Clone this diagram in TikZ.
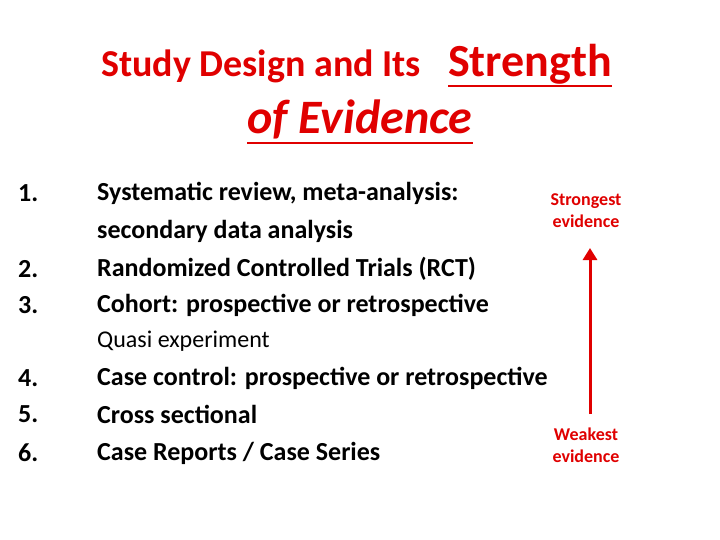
\documentclass[tikz,border=0pt]{standalone}
\usepackage{fontspec}
\setmainfont{Carlito}
\usetikzlibrary{arrows.meta}
\definecolor{tred}{HTML}{E00000}
\begin{document}
\begin{tikzpicture}[x=1pt,y=-1pt,
  item/.style={anchor=west,font=\bfseries\fontsize{26}{30}\selectfont,inner sep=0},
  side/.style={font=\bfseries\fontsize{18}{22}\selectfont,text=tred,align=center,inner sep=0},
  ttl/.style={inner sep=0,text=tred,anchor=base west}]
\useasboundingbox[fill=white] (0,0) rectangle (720,540);
\node[ttl,font=\bfseries\fontsize{38}{44}\selectfont] (t1) at (101,77) {Study Design and Its};
\node[ttl,font=\bfseries\fontsize{46}{50}\selectfont] (t1b) at (448,77) {Strength};
\draw[tred,line width=1.8pt] (t1b.base west) ++(0,9) -- ([yshift=-9pt]t1b.base east);
\node[ttl,font=\bfseries\itshape\fontsize{48}{52}\selectfont] (t2) at (247,134) {of Evidence};
\draw[tred,line width=1.8pt] (t2.base west) ++(0,9) -- ([yshift=-9pt]t2.base east);
\foreach \n/\y in {1/193,2/269,3/305,4/378,5/414,6/453}{
  \node[item] (n\n) at (18,\y) {\n.};}
\node[item] (i1) at (97,193) {Systematic review, meta-analysis:};
\node[item] (i1b) at (97,231) {secondary data analysis};
\node[item] (i2) at (97,269) {Randomized Controlled Trials (RCT)};
\node[item] (i3) at (97,305) {Cohort: prospective or retrospective};
\node[item,font=\fontsize{24}{28}\selectfont] (q) at (97,341) {Quasi experiment};
\node[item] (i4) at (97,378) {Case control: prospective or retrospective};
\node[item] (i5) at (97,414) {Cross sectional};
\node[item] (i6) at (97,453) {Case Reports / Case Series};
\node[side] (s) at (586,211) {Strongest\\evidence};
\node[side] (w) at (586,445) {Weakest\\evidence};
\coordinate (top) at (590,248);
\coordinate (bot) at (590,414);
\draw[tred,line width=3pt,-{Triangle[length=12pt,width=14pt]}] (bot) -- (top);
\end{tikzpicture}
\end{document}
